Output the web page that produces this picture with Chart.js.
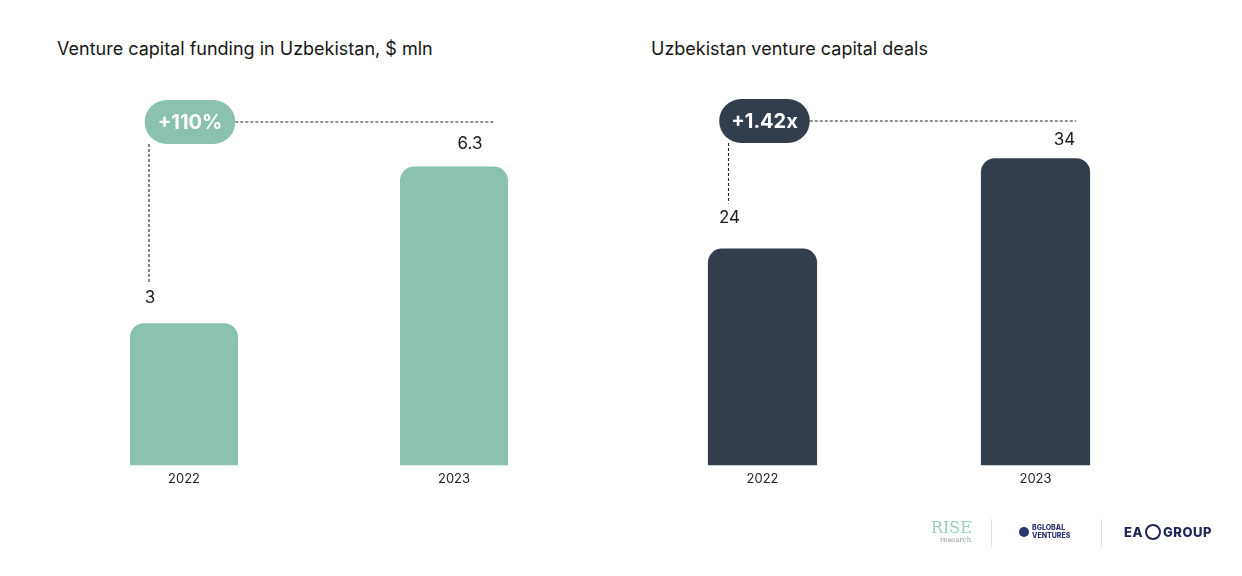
<!DOCTYPE html>
<html>
<head>
<meta charset="utf-8">
<script src="https://cdn.jsdelivr.net/npm/chart.js@4"></script>
<style>
  html, body { margin: 0; padding: 0; background: #fff; }
  body { width: 1242px; height: 576px; position: relative; overflow: hidden; font-family: Inter, "Open Sans", sans-serif; }
  .title { position: absolute; top: 38px; font-size: 18px; color: #161616; white-space: nowrap; }
  .box { position: absolute; top: 0; width: 621px; height: 576px; }
  .logo { position: absolute; }
  .sep { position: absolute; top: 519px; width: 1px; height: 28px; background: #cfe7de; }
</style>
</head>
<body>
<div class="title" style="left:57px">Venture capital funding in Uzbekistan, $ mln</div>
<div class="title" style="left:651px">Uzbekistan venture capital deals</div>
<div class="box" style="left:0"><canvas id="fundingChart"></canvas></div>
<div class="box" style="left:621px"><canvas id="dealsChart"></canvas></div>

<!-- logos -->
<div class="logo" style="left:931px;top:518px;font-family:'DejaVu Serif',serif;font-size:16px;color:#9ccfbd">RISE</div>
<div class="logo" style="left:940px;top:536px;font-family:'DejaVu Serif',serif;font-size:7px;color:#8a9a94">research</div>
<div class="sep" style="left:991px"></div>
<div class="logo" style="left:1019px;top:527px;width:10px;height:10px;border-radius:50%;background:#2b3270"></div>
<div class="logo" style="left:1032px;top:524px;font-size:7px;line-height:8px;font-weight:800;color:#2b3270">BGLOBAL<br>VENTURES</div>
<div class="sep" style="left:1101px"></div>
<div class="logo" style="left:1124px;top:524px;font-size:13px;font-weight:800;color:#1e2658;letter-spacing:0.5px">EA</div>
<div class="logo" style="left:1145px;top:524px;width:12px;height:12px;border-radius:50%;border:2px solid #1e2658"></div>
<div class="logo" style="left:1163px;top:524px;font-size:13px;font-weight:800;color:#1e2658;letter-spacing:0.5px">GROUP</div>

<script>
// данные
var years = ['2022', '2023'];
var fundingValues = [3, 6.3];
var dealValues = [24, 34];
var fundingBadge = '+110%';
var dealsBadge = '+1.42x';

var green = '#8ac2ae';
var dark = '#323e4b';

// подписи значений, пунктир и плашка с ростом
var growthPlugin = {
    id: 'growth',
    afterDatasetsDraw: function (chart, args, opts) {
        var ctx = chart.ctx;
        var meta = chart.getDatasetMeta(0);
        var values = chart.data.datasets[0].data;
        var pts = [];
        ctx.save();
        ctx.font = '400 17px Inter';
        ctx.fillStyle = '#1c1c1c';
        ctx.textAlign = 'center';
        ctx.textBaseline = 'middle';
        meta.data.forEach(function (bar, i) {
            var x = bar.x + opts.labelDx[i];
            var y = bar.y + opts.labelDy[i];
            ctx.fillText(String(values[i]), x, y);
            pts.push({ x: x, y: y });
        });

        var lineY = chart.chartArea.top + opts.lineTop;
        var b1 = meta.data[0], b2 = meta.data[1];
        var pillX = b1.x + opts.pillDx;
        var pillH = 44;
        ctx.font = '700 20px Inter';
        var pillW = ctx.measureText(opts.badge).width + opts.pillPad;
        var vx = pts[0].x - 1;
        var endX = b2.x + b2.width / 2 - 14;

        ctx.setLineDash([3, 2]);
        ctx.strokeStyle = '#222';
        ctx.lineWidth = 1.1;
        ctx.beginPath();
        ctx.moveTo(pillX + pillW / 2, lineY);
        ctx.lineTo(endX, lineY);
        ctx.moveTo(vx, lineY + pillH / 2);
        ctx.lineTo(vx, pts[0].y - 14);
        ctx.stroke();
        ctx.setLineDash([]);

        ctx.fillStyle = opts.color;
        ctx.beginPath();
        ctx.roundRect(pillX - pillW / 2, lineY - pillH / 2, pillW, pillH, pillH / 2);
        ctx.fill();
        ctx.fillStyle = '#fff';
        ctx.fillText(opts.badge, pillX, lineY + 1);
        ctx.restore();
    }
};

function makeChart(id, values, color, yMax, pad, growth) {
    return new Chart(document.getElementById(id), {
        type: 'bar',
        data: {
            labels: years,
            datasets: [{
                data: values,
                backgroundColor: color,
                borderRadius: { topLeft: 14, topRight: 14 },
                borderSkipped: 'bottom',
                barPercentage: 0.4,
                categoryPercentage: 1.0
            }]
        },
        options: {
            responsive: true,
            maintainAspectRatio: false,
            animation: false,
            layout: { padding: pad },
            scales: {
                x: {
                    grid: { display: false, drawTicks: false },
                    border: { display: false },
                    ticks: { color: '#222', padding: 6, font: { family: 'Inter', size: 13 } }
                },
                y: { display: false, min: 0, max: yMax }
            },
            plugins: {
                legend: { display: false },
                tooltip: { enabled: false },
                growth: growth
            }
        },
        plugins: [growthPlugin]
    });
}

makeChart('fundingChart', fundingValues, green, 8,
    { left: 49, right: 32, top: 86, bottom: 83 },
    { badge: fundingBadge, color: green, labelDx: [-34, 16], labelDy: [-25, -23], pillDx: 6, pillPad: 26, lineTop: 36 });

makeChart('dealsChart', dealValues, dark, 42,
    { left: 5, right: 70, top: 86, bottom: 83 },
    { badge: dealsBadge, color: dark, labelDx: [-33, 29], labelDy: [-31, -18], pillDx: 2, pillPad: 24, lineTop: 35 });
</script>
</body>
</html>
